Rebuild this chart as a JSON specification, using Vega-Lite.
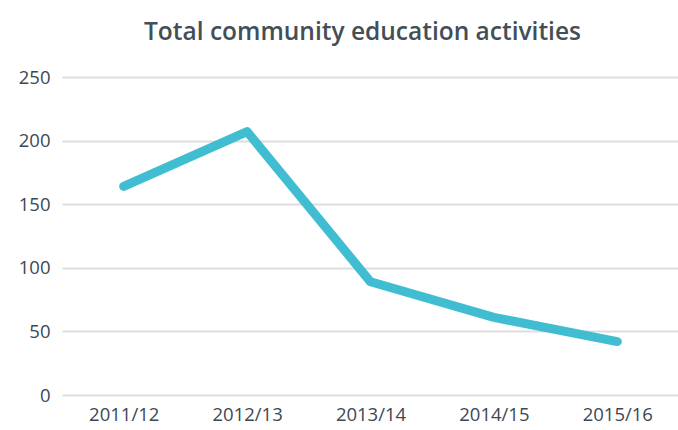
{
  "$schema": "https://vega.github.io/schema/vega-lite/v6.json",
  "width": 617,
  "height": 318,
  "autosize": {"type": "none"},
  "padding": {"left": 62, "top": 77, "right": 0, "bottom": 35},
  "background": "white",
  "title": {
    "text": "Total community education activities",
    "font": "Open Sans",
    "fontSize": 24.5,
    "fontWeight": 600,
    "color": "#434e57",
    "anchor": "middle",
    "dx": -8,
    "offset": 23
  },
  "config": {
    "view": {"stroke": null},
    "axis": {
      "labelFont": "Open Sans",
      "labelColor": "#3d4852",
      "labelFontSize": 18.5,
      "domain": false,
      "ticks": false,
      "title": null
    }
  },
  "data": {
    "values": [
      {"year": "2011/12", "value": 164},
      {"year": "2012/13", "value": 207},
      {"year": "2013/14", "value": 89},
      {"year": "2014/15", "value": 61},
      {"year": "2015/16", "value": 42}
    ]
  },
  "mark": {"type": "line", "color": "#40bdd1", "strokeWidth": 9, "strokeCap": "round", "strokeJoin": "round"},
  "encoding": {
    "x": {
      "field": "year",
      "type": "ordinal",
      "scale": {"type": "point", "padding": 0.5},
      "axis": {"labelAngle": 0, "grid": false, "labelPadding": 10}
    },
    "y": {
      "field": "value",
      "type": "quantitative",
      "scale": {"domain": [0, 250]},
      "axis": {"values": [0, 50, 100, 150, 200, 250], "grid": true, "gridColor": "#dddddd", "gridWidth": 2, "labelPadding": 12}
    }
  }
}
